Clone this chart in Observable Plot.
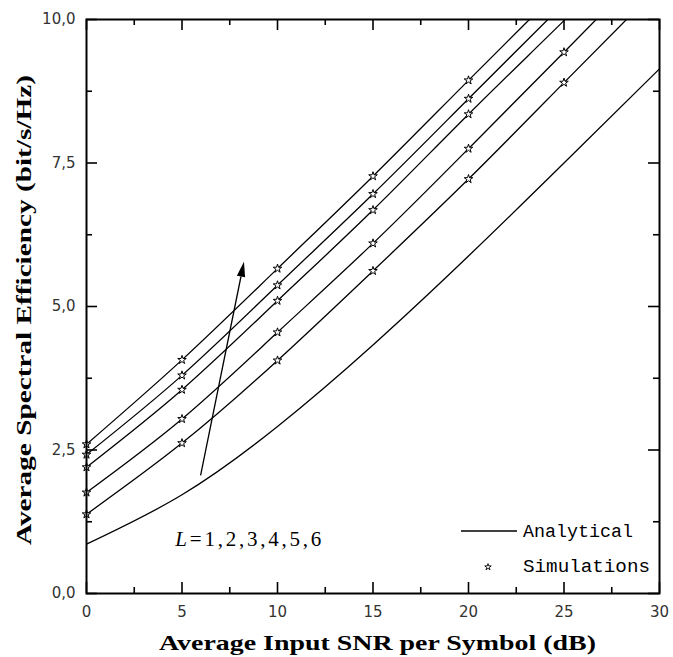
<!DOCTYPE html>
<html><head><meta charset="utf-8">
<script src="https://cdn.jsdelivr.net/npm/d3@7"></script>
<script src="https://cdn.jsdelivr.net/npm/@observablehq/plot@0.6"></script>
<style>body{margin:0;background:#fff}</style>
</head><body><div id="chart"></div>
<script>
// ---- data ----
const snr = [0, 5, 10, 15, 20, 25, 30];
const curveL1 = [0.86, 1.72, 2.91, 4.33, 5.88, 7.50, 9.14];
const curveL2 = [1.38, 2.62, 4.06, 5.62, 7.22, 8.90, 10.58];
const curveL3 = [1.76, 3.04, 4.55, 6.10, 7.75, 9.43, 11.12];
const curveL4 = [2.20, 3.55, 5.10, 6.68, 8.35, 9.98, 11.64];
const curveL5 = [2.42, 3.80, 5.37, 6.96, 8.62, 10.28, 11.95];
const curveL6 = [2.60, 4.07, 5.66, 7.27, 8.94, 10.60, 12.28];
const simSnr = [0, 5, 10, 15, 20, 25];
const simL2 = [1.38, 2.62, 4.06, 5.62, 7.22, 8.90];
const simL3 = [1.76, 3.04, 4.55, 6.10, 7.75, 9.43];
const simL4 = [2.20, 3.55, 5.10, 6.68, 8.35, null];
const simL5 = [2.42, 3.80, 5.37, 6.96, 8.62, null];
const simL6 = [2.60, 4.07, 5.66, 7.27, 8.94, null];
const xMajor = [0, 5, 10, 15, 20, 25, 30];
const xMinor = [2.5, 7.5, 12.5, 17.5, 22.5, 27.5];
const yMajor = [0, 2.5, 5, 7.5, 10];
const yMinor = [1.25, 3.75, 6.25, 8.75];
const arrowFrom = [6.0, 2.05];
const arrowTo = [8.27, 5.77];
const labelAt = [8.5, 0.82];
const xTitle = "Average Input SNR per Symbol (dB)";
const yTitle = "Average Spectral Efficiency (bit/s/Hz)";
const legendNames = ["Analytical", "Simulations"];

// ---- tables ----
const curves = [curveL1, curveL2, curveL3, curveL4, curveL5, curveL6];
const lineRows = [];
curves.forEach((ys, i) => snr.forEach((x, j) => lineRows.push({L: i + 1, snr: x, se: ys[j]})));
const sims = [simL2, simL3, simL4, simL5, simL6];
const simRows = [];
sims.forEach((ys, i) => simSnr.forEach((x, j) => { if (ys[j] != null) simRows.push({L: i + 2, snr: x, se: ys[j]}); }));

const W = 673, H = 657, mT = 19, mB = 64, mL = 86, mR = 14;
const innerH = H - mT - mB, innerW = W - mL - mR;
const major = 11, minor = 6;
const fmt = d => d.toFixed(1).replace(".", ",");

const chart = Plot.plot({
  width: W, height: H,
  marginTop: mT, marginBottom: mB, marginLeft: mL, marginRight: mR,
  x: {domain: [0, 30]},
  y: {domain: [0, 10]},
  style: {fontFamily: "DejaVu Sans", fontSize: "15px", color: "#333", background: "white", overflow: "visible"},
  marks: [
    Plot.line(lineRows, {x: "snr", y: "se", z: "L", curve: "natural", stroke: "black", strokeWidth: 1.3, clip: true}),
    Plot.dot(simRows, {x: "snr", y: "se", symbol: "star", r: 2.7, stroke: "black", strokeWidth: 1, fill: "white"}),
    Plot.tickX(xMajor, {insetTop: innerH - major, stroke: "black", strokeWidth: 1.6}),
    Plot.tickX(xMajor, {insetBottom: innerH - major, stroke: "black", strokeWidth: 1.6}),
    Plot.tickX(xMinor, {insetTop: innerH - minor, stroke: "black", strokeWidth: 1.6}),
    Plot.tickX(xMinor, {insetBottom: innerH - minor, stroke: "black", strokeWidth: 1.6}),
    Plot.tickY(yMajor, {insetRight: innerW - major, stroke: "black", strokeWidth: 1.6}),
    Plot.tickY(yMajor, {insetLeft: innerW - major, stroke: "black", strokeWidth: 1.6}),
    Plot.tickY(yMinor, {insetRight: innerW - minor, stroke: "black", strokeWidth: 1.6}),
    Plot.tickY(yMinor, {insetLeft: innerW - minor, stroke: "black", strokeWidth: 1.6}),
    Plot.axisX({ticks: xMajor, tickSize: 0, tickPadding: 13, tickFormat: d => String(d), label: null, fontSize: 15}),
    Plot.axisY({ticks: yMajor, tickSize: 0, tickPadding: 11, tickFormat: fmt, label: null, fontSize: 15}),
    Plot.frame({stroke: "black", strokeWidth: 2})
  ]
});

const svg = d3.select(chart);
const cx = mL + innerW / 2, cy = mT + innerH / 2;

// axis titles
svg.append("text").attr("x", cx - 437 / 2 + 5).attr("y", H - 15).attr("dy", "0.35em")
  .attr("text-anchor", "start").attr("font-family", "Liberation Serif").attr("font-weight", "bold")
  .attr("font-size", 22).attr("fill", "black").attr("textLength", 437).attr("lengthAdjust", "spacingAndGlyphs")
  .text(xTitle);
svg.append("text").attr("transform", `translate(23,${cy + 4}) rotate(-90)`).attr("x", -470 / 2).attr("y", 0).attr("dy", "0.35em")
  .attr("text-anchor", "start").attr("font-family", "Liberation Serif").attr("font-weight", "bold")
  .attr("font-size", 22).attr("fill", "black").attr("textLength", 470).attr("lengthAdjust", "spacingAndGlyphs")
  .text(yTitle);

const xs = chart.scale("x"), ys = chart.scale("y");
// arrow (line + filled head)
const [x0, y0] = [xs.apply(arrowFrom[0]), ys.apply(arrowFrom[1])];
const [x1, y1] = [xs.apply(arrowTo[0]), ys.apply(arrowTo[1])];
const ang = Math.atan2(y1 - y0, x1 - x0);
const hl = 15, hw = 4.2;
const bx = x1 - hl * Math.cos(ang), by = y1 - hl * Math.sin(ang);
svg.append("line").attr("x1", x0).attr("y1", y0).attr("x2", bx).attr("y2", by).attr("stroke", "black").attr("stroke-width", 1.3);
svg.append("path")
  .attr("d", `M${x1},${y1}L${bx - hw * Math.sin(ang)},${by + hw * Math.cos(ang)}L${bx + hw * Math.sin(ang)},${by - hw * Math.cos(ang)}Z`)
  .attr("fill", "black");

// L label
const lab = svg.append("text").attr("x", xs.apply(labelAt[0]) - 73).attr("y", ys.apply(labelAt[1]))
  .attr("text-anchor", "start").attr("font-family", "Liberation Serif").attr("font-size", 21).attr("fill", "black")
  .attr("textLength", 146).attr("lengthAdjust", "spacing");
lab.append("tspan").attr("font-style", "italic").text("L");
lab.append("tspan").text("=1,2,3,4,5,6");

// legend (bottom-right inside the frame)
const fr = mL + innerW, fb = mT + innerH;
const lg = svg.append("g").attr("font-family", "Liberation Mono").attr("font-size", 18).attr("fill", "black").attr("text-anchor", "start");
lg.append("line").attr("x1", fr - 198).attr("x2", fr - 142).attr("y1", fb - 62).attr("y2", fb - 62).attr("stroke", "black").attr("stroke-width", 1.3);
lg.append("text").attr("x", fr - 136).attr("y", fb - 62).attr("dy", "0.35em").attr("text-anchor", "start").attr("textLength", 110).attr("lengthAdjust", "spacingAndGlyphs").text(legendNames[0]);
lg.append("path").attr("transform", `translate(${fr - 171},${fb - 26})`).attr("d", d3.symbol(d3.symbolStar, 13)()).attr("fill", "white").attr("stroke", "black").attr("stroke-width", 0.9);
lg.append("text").attr("x", fr - 136).attr("y", fb - 27).attr("dy", "0.35em").attr("text-anchor", "start").attr("textLength", 127).attr("lengthAdjust", "spacingAndGlyphs").text(legendNames[1]);

document.getElementById("chart").appendChild(chart);
</script>
</body></html>
